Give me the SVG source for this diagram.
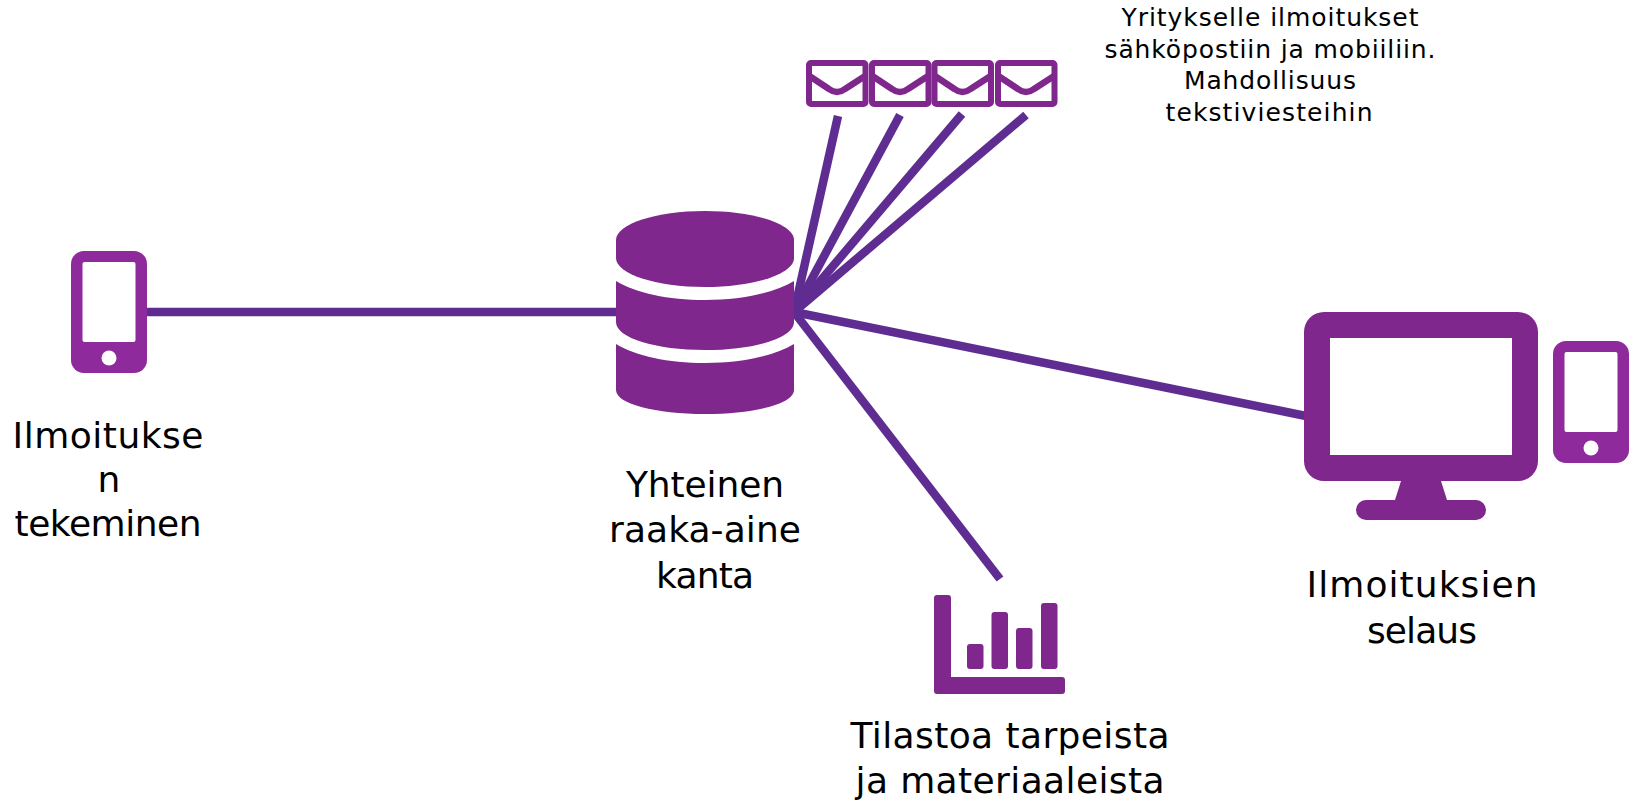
<svg xmlns="http://www.w3.org/2000/svg" width="1633" height="802" viewBox="0 0 1633 802">
<defs>
<style>
.fill{fill:#7f278c}
.phone{fill:#8e2a9b}
.w{fill:#fff}
.c line{stroke:#5f2d91;stroke-width:8.500;fill:none}
text{font-family:"DejaVu Sans","Liberation Sans",sans-serif;fill:#000;text-anchor:middle}
.b{font-size:36px}
.s{font-size:25px}
.env{fill:#fff;stroke:#7f278c;stroke-width:6;stroke-linejoin:round}
.flap{fill:none;stroke:#7f278c;stroke-width:6.500;stroke-linejoin:round;stroke-linecap:butt}
</style>
<g id="envShape">
<rect class="env" x="3" y="3" width="56.500" height="41" rx="2"/>
<path class="flap" d="M3 15.700L23 29Q31 35 39 29L59.500 15.700"/>
</g>
<g id="phoneShape">
<rect class="phone" x="0" y="0" width="76" height="122" rx="13"/>
<rect class="w" x="11.500" y="11" width="53" height="80" rx="2"/>
<circle class="w" cx="38" cy="107" r="7.500"/>
</g>
</defs>
<g id="connectors" class="c">
<line x1="147" y1="312" x2="620" y2="312"/>
<line x1="794" y1="312" x2="838" y2="116"/>
<line x1="794" y1="312" x2="900" y2="115"/>
<line x1="794" y1="312" x2="962" y2="114"/>
<line x1="794" y1="312" x2="1026" y2="115"/>
<line x1="794" y1="312" x2="1306" y2="416"/>
<line x1="794" y1="312" x2="1000" y2="579"/>
</g>
<g id="phone-left"><use href="#phoneShape" x="71" y="251"/></g>
<g id="database">
<path class="fill" d="M616 240C616 224 656 211 705 211C754 211 794 224 794 240V258C794 274 754 287 705 287C656 287 616 274 616 258Z"/>
<path class="fill" d="M616 281C636 293 668 300 705 300C742 300 774 293 794 281V322C794 338 754 350 705 350C656 350 616 338 616 322Z"/>
<path class="fill" d="M616 344C636 356 668 363 705 363C742 363 774 356 794 344V390C794 404 754 414 705 414C656 414 616 404 616 390Z"/>
</g>
<g id="mail-1"><use href="#envShape" x="806" y="60"/></g>
<g id="mail-2"><use href="#envShape" x="869" y="60"/></g>
<g id="mail-3"><use href="#envShape" x="931.500" y="60"/></g>
<g id="mail-4"><use href="#envShape" x="995" y="60"/></g>
<g id="monitor">
<path class="fill" fill-rule="evenodd" d="M1324 312H1518A20 20 0 0 1 1538 332V461A20 20 0 0 1 1518 481H1441L1447 500H1476A10 10 0 0 1 1476 520H1366A10 10 0 0 1 1366 500H1395L1401 481H1324A20 20 0 0 1 1304 461V332A20 20 0 0 1 1324 312ZM1330 338V455H1512V338Z"/>
</g>
<g id="phone-right"><use href="#phoneShape" x="1553" y="341"/></g>
<g id="chart">
<path class="fill" d="M937 595H948A3 3 0 0 1 951 598V677H1062A3 3 0 0 1 1065 680V691A3 3 0 0 1 1062 694H937A3 3 0 0 1 934 691V598A3 3 0 0 1 937 595Z"/>
<rect class="fill" x="967" y="644" width="16.500" height="25" rx="3"/>
<rect class="fill" x="991.500" y="612" width="16.500" height="57" rx="3"/>
<rect class="fill" x="1016" y="628" width="16.500" height="41" rx="3"/>
<rect class="fill" x="1041" y="603" width="16.500" height="66" rx="3"/>
</g>
<g id="label-left" class="b">
<text x="108" y="448" textLength="191">Ilmoitukse</text>
<text x="109" y="492">n</text>
<text x="108" y="536" textLength="187">tekeminen</text>
</g>
<g id="label-db" class="b">
<text x="705" y="497" textLength="158">Yhteinen</text>
<text x="705" y="542" textLength="192">raaka-aine</text>
<text x="705" y="588" textLength="98">kanta</text>
</g>
<g id="label-chart" class="b">
<text x="1010" y="748" textLength="319">Tilastoa tarpeista</text>
<text x="1010" y="793" textLength="309">ja materiaaleista</text>
</g>
<g id="label-monitor" class="b">
<text x="1422" y="597" textLength="231">Ilmoituksien</text>
<text x="1422" y="643" textLength="110">selaus</text>
</g>
<g id="label-mail" class="s">
<text x="1270" y="26" textLength="297">Yritykselle ilmoitukset</text>
<text x="1270" y="58" textLength="331">sähköpostiin ja mobiiliin.</text>
<text x="1270" y="89" textLength="172">Mahdollisuus</text>
<text x="1269" y="121" textLength="207">tekstiviesteihin</text>
</g>
</svg>
